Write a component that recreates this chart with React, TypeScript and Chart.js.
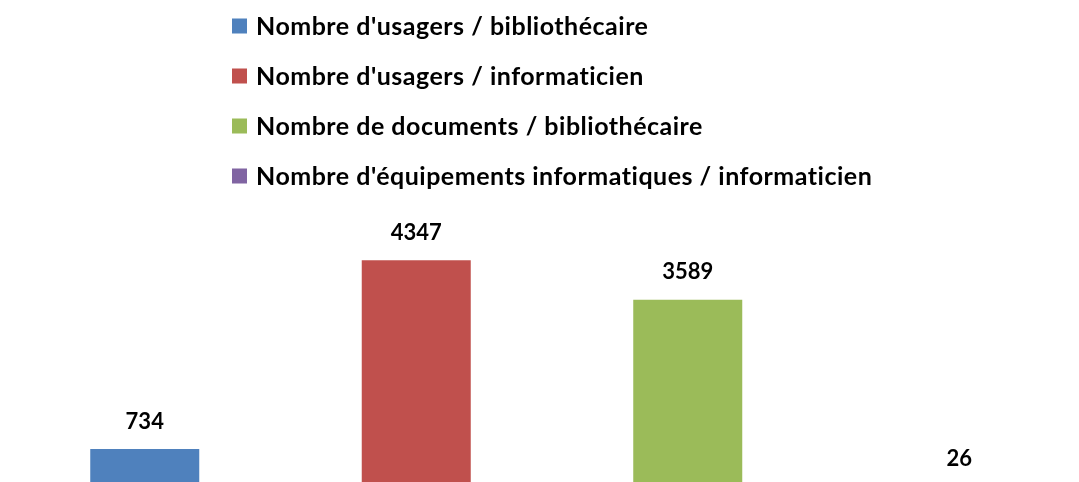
import React, { useEffect, useRef } from "react";
import { Chart, registerables } from "chart.js";

Chart.register(...registerables);

const categories = ["", "", "", ""];
const seriesNames = [
  "Nombre d'usagers / bibliothécaire",
  "Nombre d'usagers / informaticien",
  "Nombre de documents / bibliothécaire",
  "Nombre d'équipements informatiques / informaticien",
];
const values = [734, 4347, 3589, 26];
const colors = ["#4F81BD", "#C0504D", "#9BBB59", "#8064A2"];

const FONT = "Lato, 'Open Sans', 'Noto Sans', sans-serif";

const legendPlugin = {
  id: "stackedLegend",
  afterDraw(chart: any) {
    const ctx = chart.ctx;
    ctx.save();
    ctx.font = `bold 25px ${FONT}`;
    try {
      (ctx as any).letterSpacing = "0.5px";
    } catch (e) {}
    ctx.textBaseline = "middle";
    ctx.textAlign = "left";
    chart.data.datasets.forEach((ds: any, i: number) => {
      const cy = 26 + i * 50;
      ctx.fillStyle = ds.backgroundColor;
      ctx.fillRect(223, cy - 7.5, 15, 15);
      ctx.fillStyle = "#000";
      ctx.fillText(ds.label, 247, cy + 1);
    });
    ctx.restore();
  },
};

const valueLabelPlugin = {
  id: "valueLabels",
  afterDatasetsDraw(chart: any) {
    const ctx = chart.ctx;
    ctx.save();
    ctx.font = `bold 22px ${FONT}`;
    ctx.fillStyle = "#000";
    ctx.textAlign = "center";
    ctx.textBaseline = "middle";
    chart.data.datasets.forEach((ds: any, i: number) => {
      const meta = chart.getDatasetMeta(i);
      meta.data.forEach((el: any, j: number) => {
        const v = ds.data[j];
        if (v === null || v === undefined) return;
        ctx.fillText(String(v), el.x, el.y - 27.5);
      });
    });
    ctx.restore();
  },
};

export default function App() {
  const ref = useRef<HTMLCanvasElement>(null);
  useEffect(() => {
    if (!ref.current) return;
    const chart = new Chart(ref.current, {
      type: "bar",
      data: {
        labels: categories,
        datasets: seriesNames.map((name, i) => ({
          label: name,
          data: values.map((v, j) => (j === i ? v : null)),
          backgroundColor: colors[i],
          borderWidth: 0,
          categoryPercentage: 1,
          barPercentage: 0.4015,
          skipNull: true,
        })),
      },
      options: {
        responsive: false,
        animation: false,
        layout: { padding: { top: 226, bottom: 2.6, left: 0, right: 0 } },
        plugins: {
          legend: { display: false },
          tooltip: { enabled: false },
        },
        scales: {
          x: { display: false },
          y: { display: false, min: 0, max: 5000 },
        },
      },
      plugins: [legendPlugin, valueLabelPlugin],
    });
    return () => chart.destroy();
  }, []);
  return (
    <div
      style={{
        position: "fixed",
        left: 0,
        top: 0,
        width: 1079,
        height: 482,
        overflow: "hidden",
        background: "#fff",
      }}
    >
      <div style={{ position: "absolute", left: 9, top: 0, width: 1086, height: 490 }}>
        <canvas ref={ref} width={1086} height={490} style={{ width: 1086, height: 490 }} />
      </div>
    </div>
  );
}
